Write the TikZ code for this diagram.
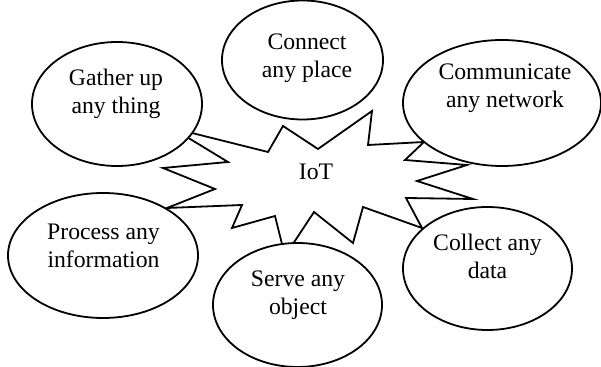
\documentclass[tikz,border=0pt]{standalone}
\usepackage{fontspec}
\setmainfont{Liberation Serif}
\usetikzlibrary{shapes.geometric}

\tikzset{
  bub/.style={ellipse,draw=black,line width=.9pt,fill=white,inner sep=0pt},
  txt/.style={align=center,inner sep=0pt,font=\fontsize{11.85}{14}\selectfont}
}

\begin{document}
\begin{tikzpicture}[x=.5pt,y=-.5pt]

\useasboundingbox (0,0) rectangle (601,367);

% the burst in the middle
\draw[black,line width=.9pt,line join=miter] (172,128) -- (268,152) -- (283,126) -- (318,149)
  -- (372,111) -- (368,145) -- (424,142) -- (405,160) -- (467,165) -- (417,181)
  -- (473,199) -- (406,198) -- (422,228) -- (363,207) -- (353,243) -- (314,212)
  -- (285,256) -- (275,216) -- (232,228) -- (242,205) -- (167,208) -- (215,189)
  -- (163,168) -- (228,162) -- cycle;
\node[txt] (iot) at (316,172) {IoT};

% the six bubbles
\node[bub,minimum width=85pt,minimum height=62pt] (gather) at (117,104) {};
\node[bub,minimum width=80.5pt,minimum height=59.5pt] (connect) at (302.5,60) {};
\node[bub,minimum width=99pt,minimum height=63pt] (comm) at (502,103) {};
\node[bub,minimum width=95pt,minimum height=62.5pt] (process) at (103,255.5) {};
\node[bub,minimum width=84.5pt,minimum height=62pt] (serve) at (297.5,305) {};
\node[bub,minimum width=84.5pt,minimum height=61.5pt] (collect) at (487.5,268.5) {};

\node[txt] (gather-t) at (116,93.5) {Gather up\\any thing};
\node[txt] (connect-t) at (307,58) {Connect\\any place};
\node[txt] (comm-t) at (505,88.5) {Communicate\\any network};
\node[txt] (process-t) at (103.5,246) {Process any\\information};
\node[txt] (serve-t) at (298,295.5) {Serve any\\object};
\node[txt] (collect-t) at (487.5,256.5) {Collect any\\data};

\end{tikzpicture}
\end{document}
